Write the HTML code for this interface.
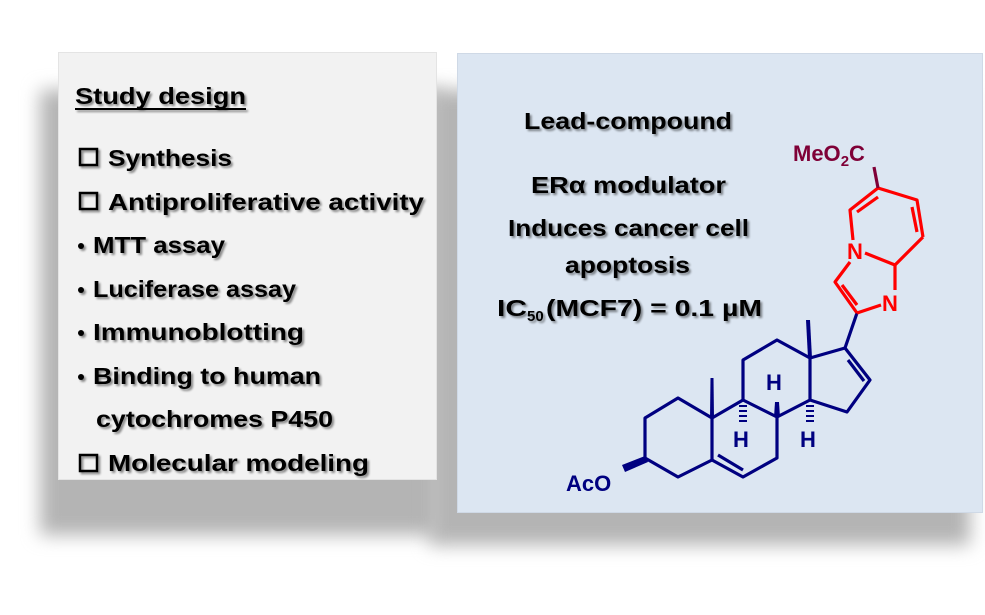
<!DOCTYPE html>
<html><head><meta charset="utf-8"><style>
html,body{margin:0;padding:0;background:#fff;}
body{width:985px;height:615px;position:relative;overflow:hidden;}
.sh{position:absolute;background:#b4b4b4;filter:blur(9px);}
.box{position:absolute;}
svg{position:absolute;left:0;top:0;}
</style></head><body>
<div class="sh" style="left:40px;top:90px;width:400px;height:445px;"></div>
<div class="sh" style="left:430px;top:90px;width:540px;height:455px;"></div>
<div class="box" style="left:58px;top:52px;width:377px;height:426px;background:#f2f2f2;border:1px solid #e4e4e4;"></div>
<div class="box" style="left:457px;top:53px;width:524px;height:458px;background:#dce6f2;border:1px solid #cfd9e6;"></div>
<svg width="985" height="615" viewBox="0 0 985 615">
<defs><filter id="ts" x="-5%" y="-20%" width="110%" height="150%"><feGaussianBlur in="SourceAlpha" stdDeviation="1"/><feOffset dx="2" dy="2"/><feComponentTransfer><feFuncA type="linear" slope="0.45"/></feComponentTransfer><feMerge><feMergeNode/><feMergeNode in="SourceGraphic"/></feMerge></filter></defs>
<g font-family="Liberation Sans, sans-serif" font-weight="bold" font-size="23" fill="#000" filter="url(#ts)">
<text x="75" y="104" textLength="171" lengthAdjust="spacingAndGlyphs">Study  design</text>
<rect x="75" y="108" width="171" height="2"/>
<g fill="none" stroke="#000" stroke-width="2.5">
<rect x="80" y="149" width="17" height="16"/><rect x="80" y="193" width="17" height="16"/><rect x="80" y="455" width="17" height="16"/></g>
<text x="108" y="166" textLength="124" lengthAdjust="spacingAndGlyphs">Synthesis</text>
<text x="108" y="210" textLength="316" lengthAdjust="spacingAndGlyphs">Antiproliferative activity</text>
<circle cx="81" cy="246" r="3"/><circle cx="81" cy="290" r="3"/><circle cx="81" cy="333" r="3"/><circle cx="81" cy="377" r="3"/>
<text x="93" y="253" textLength="132" lengthAdjust="spacingAndGlyphs">MTT assay</text>
<text x="93" y="297" textLength="203" lengthAdjust="spacingAndGlyphs">Luciferase assay</text>
<text x="93" y="340" textLength="211" lengthAdjust="spacingAndGlyphs">Immunoblotting</text>
<text x="93" y="384" textLength="228" lengthAdjust="spacingAndGlyphs">Binding to human</text>
<text x="96" y="427" textLength="237" lengthAdjust="spacingAndGlyphs">cytochromes P450</text>
<text x="108" y="471" textLength="261" lengthAdjust="spacingAndGlyphs">Molecular modeling</text>
<text x="524" y="129" textLength="208" lengthAdjust="spacingAndGlyphs">Lead-compound</text>
<text x="531" y="193" textLength="195" lengthAdjust="spacingAndGlyphs">ERα modulator</text>
<text x="508" y="236" textLength="241" lengthAdjust="spacingAndGlyphs">Induces cancer cell</text>
<text x="565" y="273" textLength="125" lengthAdjust="spacingAndGlyphs">apoptosis</text>
<text x="497" y="316" textLength="30" lengthAdjust="spacingAndGlyphs">IC</text>
<text x="527" y="321" font-size="15">50</text>
<text x="546" y="316" textLength="216" lengthAdjust="spacingAndGlyphs">(MCF7) = 0.1 µM</text>
</g>
<!-- molecule -->
<g stroke="#000080" stroke-width="3.2" fill="none" stroke-linejoin="round">
<polyline points="645,458 645,418 678,398 712,418 712,460 678,477 645,458"/>
<polyline points="712,418 743,400 777,417 777,458 743,477 712,460"/>
<line x1="718" y1="455" x2="743" y2="470"/>
<polyline points="743,400 743,360 777,340 810,358 810,400 777,417"/>
<polyline points="810,358 845,348 870,380 847,412 810,400"/>
<line x1="848" y1="360" x2="864" y2="381"/>
<line x1="845" y1="348" x2="857" y2="313"/>
</g>
<g fill="#000080">
<polygon points="710,418 714,418 713.5,378 710.5,378"/>
<polygon points="808,358 812,358 810,320 806,320"/>
<polygon points="645,456 648,462 625,472 622,465"/>
<polygon points="774,417 780,417 779,402 775,402"/>
<g stroke="#000080" stroke-width="2"><line x1="739" y1="406" x2="747" y2="406"/><line x1="739" y1="411" x2="747" y2="411"/><line x1="739" y1="416" x2="747" y2="416"/><line x1="739" y1="421" x2="747" y2="421"/>
<line x1="806" y1="406" x2="814" y2="406"/><line x1="806" y1="411" x2="814" y2="411"/><line x1="806" y1="416" x2="814" y2="416"/><line x1="806" y1="421" x2="814" y2="421"/></g>
<g font-family="Liberation Sans, sans-serif" font-size="22" font-weight="bold">
<text x="766" y="390">H</text><text x="733" y="447">H</text><text x="800" y="447">H</text>
<text x="566" y="491">AcO</text></g>
</g>
<g stroke="#ff0000" stroke-width="3.2" fill="none" stroke-linejoin="round">
<polyline points="857,313 835,282 850,262"/>
<line x1="842" y1="285" x2="857" y2="305"/>
<line x1="857" y1="313" x2="881" y2="305"/>
<line x1="865" y1="253" x2="895" y2="265"/>
<line x1="895" y1="265" x2="895" y2="290"/>
<line x1="895" y1="265" x2="923" y2="237"/>
<polyline points="923,237 917,200 878,188 850,210 853,240"/>
<line x1="912" y1="207" x2="917" y2="232"/>
<line x1="857" y1="212" x2="878" y2="197"/>
</g>
<line x1="878" y1="188" x2="874" y2="167" stroke="#7f0037" stroke-width="3.2"/>
<g font-family="Liberation Sans, sans-serif" font-size="22" font-weight="bold" fill="#ff0000">
<text x="847" y="259">N</text><text x="882" y="311">N</text></g>
<text x="793" y="161" font-family="Liberation Sans, sans-serif" font-size="22" font-weight="bold" fill="#7f0037">MeO<tspan font-size="15" dy="5">2</tspan><tspan dy="-5">C</tspan></text>
</svg>
</body></html>
